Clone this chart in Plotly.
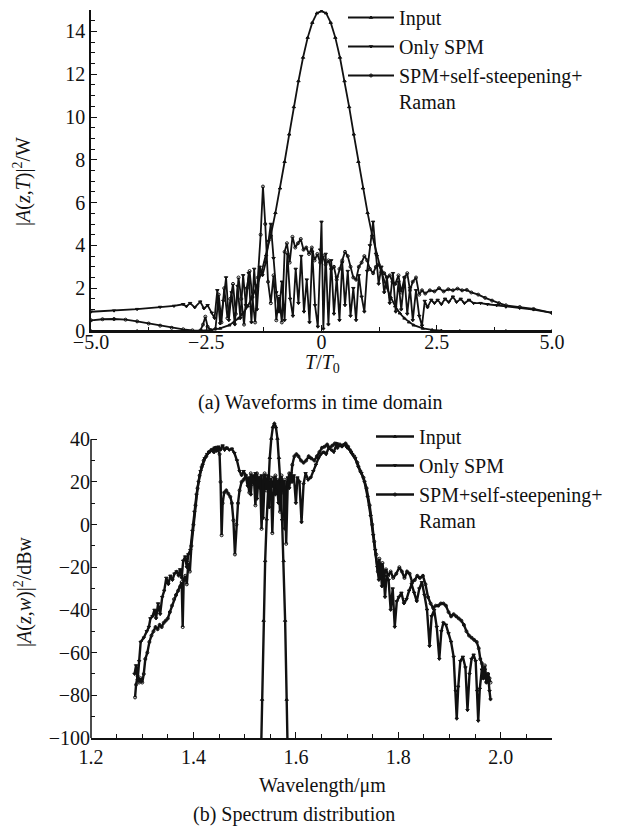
import plotly.graph_objects as go

# ---------------- (a) time domain ----------------
t_input = [-5.0, -4.0, -3.0, -2.6, -2.4, -2.2, -2.0, -1.9, -1.8, -1.7, -1.6, -1.5, -1.4, -1.3,
           -1.2, -1.1, -1.0, -0.9, -0.8, -0.7, -0.6, -0.5, -0.4, -0.3, -0.2, -0.1, 0.0,
           0.1, 0.2, 0.3, 0.4, 0.5, 0.6, 0.7, 0.8, 0.9, 1.0, 1.1, 1.2, 1.3, 1.4, 1.5,
           1.6, 1.7, 1.8, 1.9, 2.0, 2.2, 2.4, 2.6, 3.0, 4.0, 5.0]
p_input = [0.0, 0.0, 0.0, 0.02, 0.05, 0.12, 0.27, 0.41, 0.59, 0.83, 1.16, 1.58, 2.11, 2.76,
           3.55, 4.47, 5.52, 6.67, 7.91, 9.19, 10.47, 11.68, 12.78, 13.71, 14.41, 14.85, 14.95,
           14.85, 14.41, 13.71, 12.78, 11.68, 10.47, 9.19, 7.91, 6.67, 5.52, 4.47, 3.55, 2.76,
           2.11, 1.58, 1.16, 0.83, 0.59, 0.41, 0.27, 0.12, 0.05, 0.02, 0.0, 0.0, 0.0]

t_spm = [-5.0, -4.5, -4.0, -3.5, -3.2, -3.0, -2.93, -2.85, -2.75, -2.63, -2.55, -2.47, -2.38,
         -2.32, -2.26, -2.20, -2.13, -2.07, -2.01, -1.95, -1.88, -1.82, -1.76, -1.70, -1.64,
         -1.58, -1.52, -1.46, -1.40, -1.34, -1.28, -1.21, -1.15, -1.10, -1.04, -0.98, -0.92,
         -0.86, -0.80, -0.74, -0.68, -0.62, -0.56, -0.50, -0.44, -0.38, -0.32, -0.26, -0.20,
         -0.14, -0.08, -0.03, 0.00, 0.04, 0.09, 0.15, 0.21, 0.27, 0.33, 0.39, 0.45, 0.51,
         0.57, 0.63, 0.69, 0.75, 0.81, 0.87, 0.93, 0.99, 1.05, 1.12, 1.18, 1.24, 1.30, 1.36,
         1.42, 1.48, 1.55, 1.61, 1.67, 1.73, 1.80, 1.86, 1.92, 1.98, 2.05, 2.12, 2.18, 2.24,
         2.30, 2.38, 2.45, 2.52, 2.60, 2.68, 2.76, 2.85, 2.93, 3.02, 3.10, 3.20, 3.30, 3.45,
         3.60, 3.80, 4.00, 4.30, 4.60, 5.00]
p_spm = [0.9, 0.95, 1.02, 1.12, 1.17, 1.25, 1.15, 1.3, 1.1, 1.37, 1.05, 1.2, 0.85,
         0.6, 1.9, 0.35, 1.4, 2.5, 0.5, 1.8, 0.3, 2.1, 0.6, 2.6, 1.2,
         2.7, 0.4, 2.9, 1.0, 3.0, 2.6, 3.2, 4.2, 5.0, 3.4, 1.8, 0.9,
         2.3, 0.5, 3.6, 1.5, 0.7, 2.9, 1.3, 3.5, 0.9, 2.4, 0.4, 3.7,
         1.2, 0.2, 3.8, 5.1, 0.1, 3.6, 0.3, 3.3, 0.8, 2.5, 0.5, 3.2, 1.2,
         2.8, 0.7, 2.0, 0.5, 2.6, 1.6, 0.9, 2.8, 4.0, 5.1, 3.6, 2.2, 3.0, 1.8,
         2.5, 1.3, 2.7, 0.9, 2.3, 1.0, 2.5, 0.8, 2.0, 0.5, 1.9, 0.7, 0.25, 1.4,
         1.1, 1.45, 1.3, 1.45, 1.25, 1.5, 1.35, 1.6, 1.35, 1.5, 1.3, 1.45, 1.3, 1.3,
         1.25, 1.2, 1.13, 1.07, 1.0, 0.85]

t_full = [-5.0, -4.75, -4.5, -4.25, -4.0, -3.75, -3.5, -3.25, -3.0, -2.8, -2.63, -2.57, -2.52,
          -2.47, -2.4, -2.3, -2.23, -2.17, -2.11, -2.04, -1.98, -1.92, -1.86, -1.80, -1.74,
          -1.68, -1.62, -1.56, -1.50, -1.44, -1.38, -1.32, -1.27, -1.22, -1.16, -1.10, -1.04,
          -0.98, -0.92, -0.86, -0.80, -0.75, -0.69, -0.63, -0.57, -0.51, -0.45, -0.39, -0.33,
          -0.27, -0.21, -0.15, -0.09, -0.03, 0.03, 0.09, 0.15, 0.21, 0.27, 0.33, 0.39, 0.45,
          0.51, 0.57, 0.63, 0.69, 0.75, 0.81, 0.87, 0.93, 0.99, 1.05, 1.12, 1.18, 1.24, 1.30,
          1.36, 1.42, 1.48, 1.54, 1.60, 1.67, 1.73, 1.80, 1.86, 1.92, 1.98, 2.05, 2.12, 2.18,
          2.25, 2.35, 2.45, 2.55, 2.65, 2.75, 2.85, 2.95, 3.05, 3.15, 3.25, 3.40, 3.55, 3.70,
          3.85, 4.00, 4.30, 4.60, 5.00]
p_full = [0.5, 0.55, 0.56, 0.53, 0.45, 0.35, 0.25, 0.15, 0.08, 0.03, 0.02, 0.3, 0.67,
          0.2, 0.03, 0.1, 1.7, 0.4, 2.0, 0.6, 1.5, 2.2, 0.8, 2.5, 1.5,
          0.3, 2.0, 2.8, 1.6, 0.4, 2.5, 4.5, 6.75, 5.0, 2.3, 1.3, 2.6,
          0.5, 1.6, 0.4, 3.7, 4.1, 3.2, 4.4, 3.9, 4.1, 4.3, 3.8, 3.9,
          3.6, 3.9, 3.3, 3.6, 3.2, 3.5, 3.1, 3.3, 2.9, 3.0, 2.4, 2.9, 3.3,
          3.7, 3.5, 3.0, 2.5, 2.4, 3.0, 3.2, 3.5, 3.3, 2.9, 2.7, 3.0, 3.1, 2.8,
          2.7, 2.5, 2.6, 2.3, 2.2, 2.6, 1.8, 2.5, 2.7, 1.9, 2.3, 2.5, 1.7, 1.9,
          1.75, 1.9, 1.85, 2.0, 1.85, 1.95, 1.9, 1.98, 1.9, 1.92, 1.8, 1.7, 1.55, 1.42,
          1.3, 1.2, 1.12, 1.03, 0.85]

t_tickvals = [-5.0, -2.5, 0.0, 2.5, 5.0]
t_ticktext = ["\u22125.0", "\u22122.5", "0", "2.5", "5.0"]

# ---------------- (b) spectrum ----------------
wl_input = [1.532, 1.534, 1.537, 1.540, 1.543, 1.546, 1.549, 1.552, 1.555, 1.558,
            1.561, 1.564, 1.567, 1.570, 1.573, 1.576, 1.579, 1.582, 1.584]
db_input = [-107, -82, -45, -17, 2.5, 18.7, 31.3, 40.3, 45.7, 47.5,
            45.7, 40.3, 31.3, 18.7, 2.5, -17, -45, -82, -107]

wl_spm = [1.285, 1.288, 1.291, 1.294, 1.297, 1.303, 1.309, 1.313, 1.316, 1.320, 1.324, 1.327,
          1.331, 1.335, 1.339, 1.343, 1.347, 1.351, 1.355, 1.359, 1.363, 1.367, 1.371, 1.374,
          1.377, 1.380, 1.384, 1.387, 1.390, 1.394, 1.398, 1.402, 1.406, 1.410, 1.414, 1.418,
          1.422, 1.427, 1.432, 1.437, 1.441, 1.445, 1.449, 1.453, 1.457, 1.461, 1.465, 1.470,
          1.475, 1.480, 1.485, 1.490, 1.494, 1.498, 1.502, 1.506, 1.509, 1.512, 1.515, 1.518,
          1.521, 1.524, 1.527, 1.530, 1.533, 1.536, 1.539, 1.542, 1.545, 1.548, 1.551, 1.554,
          1.557, 1.560, 1.563, 1.566, 1.569, 1.572, 1.575, 1.578, 1.581, 1.584, 1.587, 1.590,
          1.593, 1.596, 1.600, 1.603, 1.607, 1.611, 1.615, 1.619, 1.624, 1.629, 1.634, 1.639,
          1.644, 1.649, 1.654, 1.659, 1.664, 1.669, 1.674, 1.680, 1.685, 1.690, 1.695, 1.700,
          1.705, 1.710, 1.716, 1.722, 1.728, 1.734, 1.740, 1.746, 1.751, 1.755, 1.759, 1.762,
          1.765, 1.768, 1.771, 1.774, 1.777, 1.781, 1.785, 1.789, 1.793, 1.797, 1.801, 1.806,
          1.811, 1.816, 1.821, 1.826, 1.831, 1.836, 1.841, 1.846, 1.851, 1.856, 1.861, 1.865,
          1.870, 1.875, 1.880, 1.884, 1.888, 1.893, 1.898, 1.903, 1.908, 1.912, 1.914, 1.917,
          1.921, 1.926, 1.931, 1.935, 1.939, 1.943, 1.947, 1.951, 1.954, 1.956, 1.959, 1.963,
          1.966, 1.969, 1.972, 1.975, 1.978, 1.980]
db_spm = [-70, -66, -73, -64, -55, -53, -50, -48, -44, -43, -40, -44,
          -37, -42, -34, -31, -25, -28, -24, -26, -23, -22, -24, -21,
          -25, -17, -15, -20, -14, -12, -3, 6, 14, 20, 25, 28,
          31, 33, 34, 35, 36, 34.5, 36.5, 35, 37, 35, 36, 35,
          35.5, 33.5, 30, 25, 23, 25, 23, 18, 22, 14, 23, 20,
          24, 12, 22, 17, 23, 3, 21, 19, 23, 8, 20, 18,
          22, 14, 20, 10, 21, 18, 19, -2, 16, 22, 17, 24,
          20, 23, 10, 22, 20, 1, 19, 24, 21, 22, 25, 28,
          31, 33, 34, 33, 36, 35, 34, 38, 37, 36.5, 37.5, 36,
          35, 33, 31, 27, 24, 20, 13, 4, -5, -12, -20, -26,
          -19, -29, -22, -34, -24, -26, -40, -30, -48, -36, -34, -32,
          -37, -35, -31, -28, -32, -36, -30, -27, -33, -40, -57, -43,
          -40, -48, -63, -50, -46, -47, -51, -55, -62, -78, -91, -76,
          -64, -62, -67, -87, -70, -63, -61, -64, -78, -92, -77, -68,
          -72, -68, -74, -70, -78, -82]

wl_full = [1.286, 1.288, 1.291, 1.294, 1.297, 1.300, 1.303, 1.306, 1.310, 1.314, 1.318, 1.322,
           1.326, 1.330, 1.334, 1.338, 1.342, 1.346, 1.350, 1.354, 1.358, 1.362, 1.366, 1.370,
           1.374, 1.377, 1.379, 1.381, 1.384, 1.387, 1.390, 1.393, 1.396, 1.400, 1.404, 1.408,
           1.412, 1.416, 1.420, 1.425, 1.430, 1.435, 1.440, 1.444, 1.448, 1.451, 1.453, 1.455,
           1.457, 1.460, 1.464, 1.468, 1.472, 1.475, 1.478, 1.481, 1.484, 1.487, 1.490, 1.494,
           1.498, 1.502, 1.506, 1.509, 1.512, 1.515, 1.518, 1.521, 1.524, 1.527, 1.530, 1.533,
           1.536, 1.539, 1.542, 1.545, 1.548, 1.551, 1.554, 1.557, 1.560, 1.563, 1.566, 1.569,
           1.572, 1.575, 1.578, 1.581, 1.584, 1.587, 1.590, 1.593, 1.597, 1.601, 1.605, 1.610,
           1.615, 1.620, 1.625, 1.630, 1.636, 1.641, 1.646, 1.651, 1.656, 1.661, 1.666, 1.671,
           1.676, 1.681, 1.686, 1.691, 1.697, 1.702, 1.708, 1.714, 1.720, 1.726, 1.732, 1.738,
           1.744, 1.749, 1.753, 1.757, 1.760, 1.763, 1.766, 1.769, 1.772, 1.776, 1.780, 1.785,
           1.790, 1.796, 1.802, 1.807, 1.812, 1.817, 1.822, 1.827, 1.832, 1.837, 1.842, 1.848,
           1.853, 1.858, 1.863, 1.868, 1.873, 1.878, 1.883, 1.888, 1.893, 1.898, 1.903, 1.908,
           1.913, 1.918, 1.923, 1.928, 1.933, 1.938, 1.943, 1.948, 1.953, 1.957, 1.960, 1.963,
           1.966, 1.969, 1.972, 1.975, 1.978, 1.980]
db_full = [-81, -75, -71, -74, -72, -74, -70, -63, -60, -55, -52, -50,
           -48, -49, -47, -48, -46, -45, -44, -41, -38, -35, -33, -31,
           -29, -27, -48, -26, -24, -28, -18, -22, -10, 0, 9, 17,
           23, 27, 30, 32, 34, 35, 34, 36, 35, 33, 20, -5,
           10, 15, 16, 14.5, 13, 10, 2, -14, 0, 10, 16, 20,
           21, 23, 21, 15, 24, 19, 22, 9, 24, 18, 22, -2,
           20, 24, 16, 21, 12, 22, -4, 19, 23, 17, 21, 6,
           23, 15, 21, -9, 18, 24, 20, 28, 32, 33, 32, 30,
           29, 30, 32, 31, 30, 32, 34, 36, 36.5, 37.5, 36, 37,
           38, 36, 37.5, 37, 38, 36.5, 34, 32, 29, 25, 22, 17,
           9, 0, -8, -14, -22, -16, -25, -18, -24, -21, -24, -22,
           -25, -23, -20, -22, -25, -22, -23, -27, -26, -24, -25, -24,
           -28, -34, -37, -39, -38, -38, -37, -37, -38, -41, -43, -42,
           -43, -44, -45, -47, -50, -52, -53, -54, -55, -58, -63, -65,
           -72, -66, -74, -70, -72, -74]

names = ["Input", "Only SPM", "SPM+self-steepening+<br>Raman"]
symbols = ["triangle-up", "triangle-down", "circle-open"]

FONT = "Liberation Serif"
INK = "#111111"

fig = go.Figure()

time_sets = [(t_input, p_input), (t_spm, p_spm), (t_full, p_full)]
spec_sets = [(wl_input, db_input), (wl_spm, db_spm), (wl_full, db_full)]

for (x, y), name, sym in zip(time_sets, names, symbols):
    fig.add_trace(go.Scatter(
        x=x, y=y, name=name, mode="lines+markers",
        line=dict(color=INK, width=1.8),
        marker=dict(symbol=sym, size=3, color=INK, line=dict(color=INK, width=1)),
        xaxis="x", yaxis="y", legend="legend"))

for (x, y), name, sym in zip(spec_sets, names, symbols):
    fig.add_trace(go.Scatter(
        x=x, y=y, name=name, mode="lines+markers",
        line=dict(color=INK, width=2.4),
        marker=dict(symbol=sym, size=3, color=INK, line=dict(color=INK, width=1)),
        xaxis="x2", yaxis="y2", legend="legend2"))

W, H = 622, 828
ML, MR, MT, MB = 91, 70, 10, 90
PW, PH = W - ML - MR, H - MT - MB


def px_x(px):
    return (px - ML) / PW


def px_y(py):
    return (H - MB - py) / PH


tick_font = dict(family=FONT, size=20, color=INK)
axis_common = dict(
    showgrid=False, zeroline=False, showline=True, linecolor=INK, linewidth=1.5,
    ticks="inside", ticklen=6, tickwidth=1.3, tickcolor=INK, tickfont=tick_font,
)
legend_font = dict(family=FONT, size=20, color=INK)

fig.update_layout(
    width=W, height=H,
    margin=dict(l=ML, r=MR, t=MT, b=MB, autoexpand=False),
    paper_bgcolor="white", plot_bgcolor="white",
    font=dict(family=FONT, size=20, color=INK),
    xaxis=dict(domain=[0, 1], anchor="y", range=[-5, 5],
               tickmode="array", tickvals=t_tickvals, ticktext=t_ticktext,
               ticklabelstandoff=-8,
               minor=dict(tickmode="linear", tick0=-5, dtick=1.25, ticks="inside",
                          ticklen=4, tickcolor=INK),
               **axis_common),
    yaxis=dict(domain=[px_y(331), 1], anchor="x", range=[0, 15], dtick=2,
               minor=dict(dtick=0.5, ticks="inside", ticklen=4, tickcolor=INK),
               **axis_common),
    xaxis2=dict(domain=[0, 1], anchor="y2", range=[1.2, 2.1], dtick=0.2, tick0=1.2,
                tickformat=".1f",
                minor=dict(dtick=0.05, ticks="inside", ticklen=4, tickcolor=INK),
                **axis_common),
    # the panel extends a little above 40 dBw so the input peak stays visible
    yaxis2=dict(domain=[0, px_y(420)], anchor="x2", range=[-100, 49], dtick=20, tick0=0,
                minor=dict(dtick=10, ticks="inside", ticklen=4, tickcolor=INK),
                **{**axis_common, "showline": False}),
    legend=dict(x=px_x(343), y=px_y(-2), xanchor="left", yanchor="top",
                font=legend_font, bgcolor="rgba(0,0,0,0)", itemwidth=46,
                valign="top", tracegroupgap=0),
    legend2=dict(x=px_x(371), y=px_y(417), xanchor="left", yanchor="top",
                 font=legend_font, bgcolor="rgba(0,0,0,0)", itemwidth=38,
                 valign="top", tracegroupgap=0),
    showlegend=True,
)

# left axis line of the spectrum panel stops at the 40 dBw tick
fig.add_shape(type="line", xref="x2 domain", yref="y2", x0=0, x1=0, y0=-100, y1=40,
              line=dict(color=INK, width=1.5))

ann = [
    ("<i>T</i>/<i>T</i><sub>0</sub>", 322, 363, 0),
    ("(a) Waveforms in time domain", 320, 402, 0),
    ("Wavelength/μm", 322, 785, 0),
    ("(b) Spectrum distribution", 294, 814, 0),
    ("|<i>A</i>(<i>z</i>,<i>T</i>)|<sup>2</sup>/W", 22, 182, -90),
    ("|<i>A</i>(<i>z</i>,<i>w</i>)|<sup>2</sup>/dBw", 23, 592, -90),
]
for text, ax_px, ay_px, ang in ann:
    fig.add_annotation(text=text, xref="paper", yref="paper",
                       x=px_x(ax_px), y=px_y(ay_px), xanchor="center", yanchor="middle",
                       showarrow=False, textangle=ang,
                       font=dict(family=FONT, size=20, color=INK))

fig.write_html("out.html")
